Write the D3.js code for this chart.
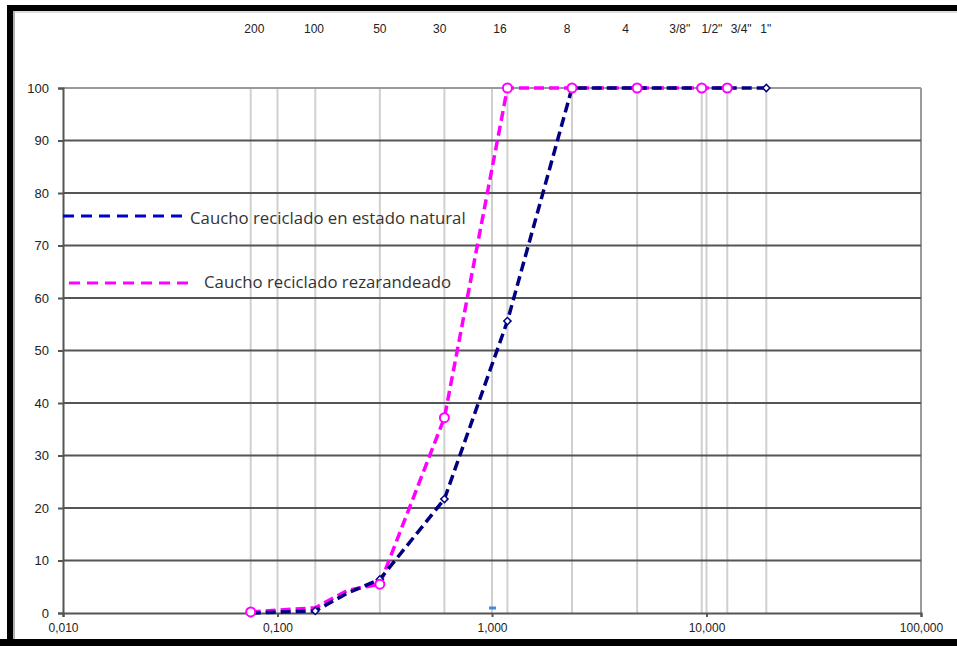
<!DOCTYPE html>
<html>
<head>
<meta charset="utf-8">
<script src="https://cdn.jsdelivr.net/npm/d3@7"></script>
<style>
  body { margin: 0; background: #fff; }
  svg { display: block; }
</style>
</head>
<body>
<svg id="chart" width="957" height="646"></svg>
<script>
// abertura de tamiz (mm) y % que pasa
const sizes = [0.075, 0.15, 0.212, 0.3, 0.6, 1.18, 2.36, 4.75, 9.5, 12.5, 19];
const natural = [0, 0.4, 3.8, 6.4, 21.7, 55.6, 100, 100, 100, 100, 100];
const rezarandeado = [0.2, 1.0, 4.3, 5.5, 37.2, 100, 100, 100, 100, 100, null];
const naturalMarked = [0.075, 0.15, 0.3, 0.6, 1.18, 2.36, 4.75, 9.5, 12.5, 19];
const rezMarked = [0.075, 0.3, 0.6, 1.18, 2.36, 4.75, 9.5, 12.5];
const stray = [[1.0, 0.95]];

const gridSizes = [0.075, 0.1, 0.15, 0.3, 0.6, 1, 1.18, 2.36, 4.75, 9.5, 10, 12.5, 19];
const sieveLabels = ["200", "100", "50", "30", "16", "8", "4", "3/8\"", "1/2\"", "3/4\"", "1\""];
const sieveLabelAt = [0.078, 0.148, 0.30, 0.57, 1.09, 2.24, 4.2, 7.5, 10.6, 14.5, 18.9];
const xTicks = [0.01, 0.1, 1, 10, 100];
const yTicks = [0, 10, 20, 30, 40, 50, 60, 70, 80, 90, 100];
const legendNames = ["Caucho reciclado en estado natural", "Caucho reciclado rezarandeado"];

const svg = d3.select("#chart");
const x = d3.scaleLog().domain([0.01, 100]).range([63, 921]);
const y = d3.scaleLinear().domain([0, 100]).range([613, 88]);

const navy = "#000080", pink = "#ff00ff";

// vertical grid
svg.append("g").selectAll("line").data(gridSizes).enter().append("line")
  .attr("x1", d => x(d)).attr("x2", d => x(d))
  .attr("y1", y(0)).attr("y2", y(100))
  .attr("stroke", "#d0d0d0").attr("stroke-width", 2);

// right edge + top line
svg.append("line").attr("x1", x(100)).attr("x2", x(100)).attr("y1", y(0)).attr("y2", y(100))
  .attr("stroke", "#9a9a9a").attr("stroke-width", 2);
svg.append("line").attr("x1", x(0.01)).attr("x2", x(100)).attr("y1", y(100)).attr("y2", y(100))
  .attr("stroke", "#9a9a9a").attr("stroke-width", 2);

// horizontal grid
svg.append("g").selectAll("line").data(yTicks.filter(d => d > 0 && d < 100)).enter().append("line")
  .attr("x1", x(0.01)).attr("x2", x(100))
  .attr("y1", d => y(d)).attr("y2", d => y(d))
  .attr("stroke", "#555").attr("stroke-width", 2);

// y axis
const yAxis = svg.append("g").attr("transform", `translate(${x(0.01)},0)`)
  .call(d3.axisLeft(y).tickValues(yTicks).tickSize(5).tickPadding(9));
yAxis.select(".domain").attr("stroke", "#555").attr("stroke-width", 2);
yAxis.selectAll(".tick line").attr("stroke", "#555").attr("stroke-width", 2);
yAxis.selectAll("text").attr("font-family", "Liberation Sans, Arial, sans-serif")
  .attr("font-size", 13).attr("fill", "#222");

// x axis
const fmt = d => d3.format(",.3f")(d).replace(".", ",");
const xAxis = svg.append("g").attr("transform", `translate(0,${y(0)})`)
  .call(d3.axisBottom(x).tickValues(xTicks).tickFormat(fmt).tickSize(4).tickPadding(6));
xAxis.select(".domain").attr("stroke", "#555").attr("stroke-width", 2);
xAxis.selectAll(".tick line").attr("stroke", "#555").attr("stroke-width", 2);
xAxis.selectAll("text").attr("font-family", "Liberation Sans, Arial, sans-serif")
  .attr("font-size", 12).attr("fill", "#222");

// sieve labels on top
svg.append("g").selectAll("text").data(sieveLabels).enter().append("text")
  .attr("x", (d, i) => x(sieveLabelAt[i])).attr("y", 33)
  .attr("text-anchor", "middle")
  .attr("font-family", "Liberation Sans, Arial, sans-serif")
  .attr("font-size", 12).attr("fill", "#222")
  .text(d => d);

// series
const line = d3.line().defined(d => d[1] != null).x(d => x(d[0])).y(d => y(d[1]));
const natPts = sizes.map((s, i) => [s, natural[i]]);
const rezPts = sizes.map((s, i) => [s, rezarandeado[i]]);

svg.append("path").datum(rezPts).attr("d", line).attr("fill", "none")
  .attr("stroke", pink).attr("stroke-width", 3.5).attr("stroke-dasharray", "10,5");
svg.append("path").datum(natPts).attr("d", line).attr("fill", "none")
  .attr("stroke", navy).attr("stroke-width", 3.5).attr("stroke-dasharray", "10,5");

// markers
svg.append("g").selectAll("path").data(natPts.filter(d => naturalMarked.includes(d[0]))).enter().append("path")
  .attr("d", d3.symbol(d3.symbolSquare, 26))
  .attr("transform", d => `translate(${x(d[0])},${y(d[1])}) rotate(45)`)
  .attr("fill", "#fff").attr("stroke", navy).attr("stroke-width", 1.5);
svg.append("g").selectAll("circle").data(rezPts.filter(d => d[1] != null && rezMarked.includes(d[0]))).enter().append("circle")
  .attr("cx", d => x(d[0])).attr("cy", d => y(d[1])).attr("r", 4.5)
  .attr("fill", "#fff").attr("stroke", pink).attr("stroke-width", 2);

svg.append("g").selectAll("rect").data(stray).enter().append("rect")
  .attr("x", d => x(d[0]) - 3).attr("y", d => y(d[1]) - 1.5)
  .attr("width", 7).attr("height", 3).attr("fill", "#4a86e8");

// legend
const legend = svg.append("g");
legend.append("line").attr("x1", 63).attr("x2", 182).attr("y1", 216).attr("y2", 216)
  .attr("stroke", "#0000cc").attr("stroke-width", 3).attr("stroke-dasharray", "11,7");
legend.append("text").attr("x", 190).attr("y", 224).text(legendNames[0]);
legend.append("line").attr("x1", 69).attr("x2", 188).attr("y1", 283).attr("y2", 283)
  .attr("stroke", pink).attr("stroke-width", 3).attr("stroke-dasharray", "11,7");
legend.append("text").attr("x", 204).attr("y", 288).text(legendNames[1]);
legend.selectAll("text").attr("font-family", "Open Sans, sans-serif")
  .attr("font-size", 16.8).attr("fill", "#333");

// frame
svg.append("rect").attr("x", 7).attr("y", 5).attr("width", 950).attr("height", 6).attr("fill", "#000");
svg.append("rect").attr("x", 7).attr("y", 5).attr("width", 6).attr("height", 641).attr("fill", "#000");
svg.append("rect").attr("x", 0).attr("y", 639).attr("width", 957).attr("height", 7).attr("fill", "#000");
svg.append("line").attr("x1", 14).attr("x2", 14).attr("y1", 11).attr("y2", 639)
  .attr("stroke", "#999").attr("stroke-width", 1.5);
svg.append("line").attr("x1", 13).attr("x2", 957).attr("y1", 12).attr("y2", 12)
  .attr("stroke", "#bbb").attr("stroke-width", 1);
</script>
</body>
</html>
